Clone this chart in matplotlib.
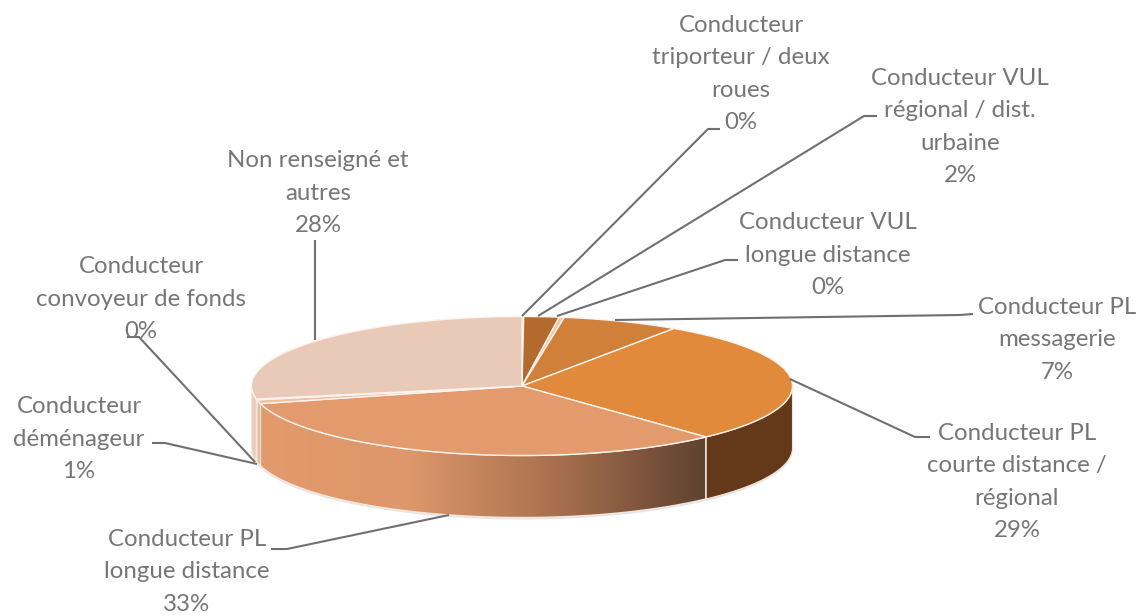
import numpy as np
import matplotlib
matplotlib.use("Agg")
import matplotlib.pyplot as plt
from matplotlib.colors import LinearSegmentedColormap
from matplotlib.patches import Polygon

# part de chaque metier, sens horaire depuis le haut
categories = [
    "Conducteur\ntriporteur / deux\nroues",
    "Conducteur VUL\nrégional / dist.\nurbaine",
    "Conducteur VUL\nlongue distance",
    "Conducteur PL\nmessagerie",
    "Conducteur PL\ncourte distance /\nrégional",
    "Conducteur PL\nlongue distance",
    "Conducteur\ndéménageur",
    "Conducteur\nconvoyeur de fonds",
    "Non renseigné et\nautres",
]
valeurs = [0.1, 2.1, 0.3, 7.0, 28.6, 32.8, 0.9, 0.2, 28.0]
couleurs = ["#A9632A", "#B46A2D", "#EBC8A8", "#D08038", "#E28A3C",
            "#E39A6C", "#EDBFA4", "#F0D0BD", "#E9C9B8"]
couleurs_cote = ["#A9632A", "#7A4820", "#C9A080", "#6E4320", "#63391A",
                 "#E39A6C", "#E8B89C", "#EFD3C4", "#EACBBB"]

# position du texte (centre) puis coude du trait, en pixels
pos_labels = [(741, 74), (960, 127), (828, 255), (1057, 340), (1017, 482),
              (187, 572), (79, 439), (141, 299), (318, 193)]
traits = [
    [(522, 316), (708, 129), (720, 129)],
    [(538, 316), (864, 116), (877, 116)],
    [(557, 316), (725, 260), (738, 260)],
    [(615, 320), (960, 315), (973, 314)],
    [(790, 379), (915, 437), (930, 437)],
    [(449, 515), (287, 549), (271, 549)],
    [(257, 464), (165, 443), (152, 443)],
    [(255, 462), (139, 337), (127, 337)],
    [(315, 340), (315, 240)],
]

cx, cy, rx, ry, h = 522, 386, 270.5, 69.5, 62


def bord(t, dy=0):
    return np.column_stack([cx + rx * np.sin(t), cy - ry * np.cos(t) + dy])


fig = plt.figure(figsize=(11.39, 6.15), dpi=100)
ax = fig.add_axes([0, 0, 1, 1])
plt.rcParams["font.family"] = ["Lato", "DejaVu Sans"]

parts = np.array(valeurs) / sum(valeurs)
fins = np.cumsum(parts) * 2 * np.pi
debuts = fins - parts * 2 * np.pi

# ombre legere sous le camembert
t = np.linspace(np.pi / 2, 3 * np.pi / 2, 200)
ax.add_patch(Polygon(np.vstack([bord(t, h + 2), bord(t[::-1], h - 10)]),
                     fc="#E6E6E6", ec="none", zorder=1))

degrade = LinearSegmentedColormap.from_list(
    "degrade", ["#E39A6C", "#DD976A", "#A8704E", "#5F4230"])

# cotes visibles
for i in range(len(valeurs)):
    a = max(debuts[i], np.pi / 2)
    b = min(fins[i], 3 * np.pi / 2)
    if b <= a:
        continue
    t = np.linspace(a, b, 120)
    contour = np.vstack([bord(t), bord(t[::-1], h)])
    if i == 5:
        x0, x1 = contour[:, 0].min(), contour[:, 0].max()
        poly = Polygon(contour, fc="none", ec="none", transform=ax.transData)
        ax.add_patch(poly)
        im = ax.imshow(np.linspace(0, 1, 256).reshape(1, -1), cmap=degrade,
                       extent=[x0, x1, cy + ry + h + 5, cy - 30], aspect="auto", zorder=2)
        im.set_clip_path(poly)
        ax.add_patch(Polygon(contour, fc="none", ec="#F3E6DC", lw=1, zorder=3))
    else:
        ax.add_patch(Polygon(contour, fc=couleurs_cote[i], ec="#F3E6DC", lw=0.8, zorder=3))

# dessus
for i in range(len(valeurs)):
    t = np.linspace(debuts[i], fins[i], max(int(parts[i] * 400), 3))
    ax.add_patch(Polygon(np.vstack([[cx, cy], bord(t)]), fc=couleurs[i],
                         ec="#FBF3EC", lw=1, joinstyle="round", zorder=4))

# traits de rappel et etiquettes
for trait in traits:
    pts = np.array(trait)
    ax.plot(pts[:, 0], pts[:, 1], color="#707070", lw=1.5, zorder=5, solid_capstyle="butt")

for nom, v, (x, y) in zip(categories, valeurs, pos_labels):
    ax.text(x, y, "%s\n%d%%" % (nom, round(v)), ha="center", va="center",
            fontsize=17.3, color="#767676", linespacing=1.65, zorder=6)

ax.set_xlim(0, 1139)
ax.set_ylim(615, 0)
ax.axis("off")
fig.savefig("out.png", dpi=100)
